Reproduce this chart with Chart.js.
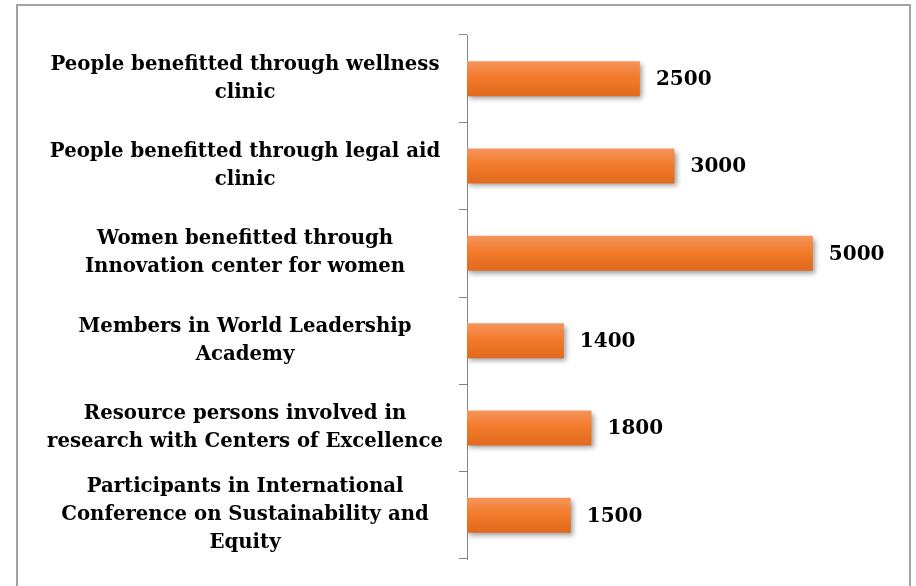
<!DOCTYPE html>
<html>
<head>
<meta charset="utf-8">
<script src="https://cdn.jsdelivr.net/npm/chart.js@4.4.1/dist/chart.umd.min.js"></script>
<style>
  html, body { margin: 0; padding: 0; background: #fff; overflow: hidden; }
  #wrap { position: relative; width: 916px; height: 586px; overflow: hidden; }
  #frame {
    position: absolute; left: 16px; top: 4px; width: 891px; height: 640px;
    border: 2px solid #a3a3a3;
  }
  #graph { position: absolute; left: 0; top: 0; }
</style>
</head>
<body>
<div id="wrap">
  <div id="frame"></div>
  <canvas id="graph" width="916" height="586"></canvas>
</div>
<script>
// categories, top to bottom
const categories = [
  ["People benefitted through wellness", "clinic"],
  ["People benefitted through legal aid", "clinic"],
  ["Women benefitted through", "Innovation center for women"],
  ["Members in World Leadership", "Academy"],
  ["Resource persons involved in", "research with Centers of Excellence"],
  ["Participants in International", "Conference on Sustainability and", "Equity"]
];
const counts = [2500, 3000, 5000, 1400, 1800, 1500];

const SERIF = "'DejaVu Serif', 'Liberation Serif', serif";

// -------------------------
// BAR GRADIENT
// -------------------------
function barFill(c) {
  const yScale = c.chart.scales.y;
  if (!yScale || c.dataIndex == null) return "#f07a2a";
  const yc = yScale.getPixelForValue(c.dataIndex);
  const h = (yScale.height / categories.length) * 0.4;
  if (!isFinite(yc) || !isFinite(h) || h <= 0) return "#f07a2a";
  const g = c.chart.ctx.createLinearGradient(0, yc - h / 2, 0, yc + h / 2);
  g.addColorStop(0, "#f5955c");
  g.addColorStop(0.45, "#f27b2c");
  g.addColorStop(1, "#e2691d");
  return g;
}

// -------------------------
// PLUGINS
// -------------------------
const barShadow = {
  id: "barShadow",
  beforeDatasetsDraw(chart) {
    const ctx = chart.ctx;
    ctx.save();
    ctx.shadowColor = "rgba(0,0,0,0.38)";
    ctx.shadowBlur = 5;
    ctx.shadowOffsetX = 2;
    ctx.shadowOffsetY = 3;
  },
  afterDatasetsDraw(chart) {
    chart.ctx.restore();
  }
};

const valueLabels = {
  id: "valueLabels",
  afterDatasetsDraw(chart) {
    const ctx = chart.ctx;
    const meta = chart.getDatasetMeta(0);
    ctx.save();
    ctx.font = "bold 20px " + SERIF;
    ctx.fillStyle = "#000";
    ctx.textAlign = "left";
    ctx.textBaseline = "middle";
    meta.data.forEach((bar, i) => {
      ctx.fillText(String(counts[i]), bar.x + 16, bar.y + 1);
    });
    ctx.restore();
  }
};

// -------------------------
// CHART
// -------------------------
function initChart() {
  const ctx = document.getElementById("graph").getContext("2d");

  new Chart(ctx, {
    type: "bar",
    data: {
      labels: categories,
      datasets: [{
        data: counts,
        backgroundColor: barFill,
        borderWidth: 0,
        categoryPercentage: 1,
        barPercentage: 0.4
      }]
    },
    options: {
      indexAxis: "y",
      responsive: false,
      animation: false,
      layout: { padding: { left: 0, right: 34, top: 35, bottom: 27 } },
      plugins: {
        legend: { display: false },
        tooltip: { enabled: false }
      },
      scales: {
        x: { display: false, min: 0, max: 6000 },
        y: {
          afterFit(scale) {
            scale.width = 467;
            scale.paddingTop = 0;
            scale.paddingBottom = 0;
          },
          border: { display: true, color: "#858585", width: 1 },
          grid: { drawOnChartArea: false, drawTicks: true, tickLength: 8, color: "#858585" },
          ticks: {
            crossAlign: "center",
            padding: 16,
            color: "#000",
            font: { family: SERIF, weight: "bold", size: 19.7, lineHeight: 28 / 19.7 }
          }
        }
      }
    },
    plugins: [barShadow, valueLabels]
  });
}

initChart();
</script>
</body>
</html>
